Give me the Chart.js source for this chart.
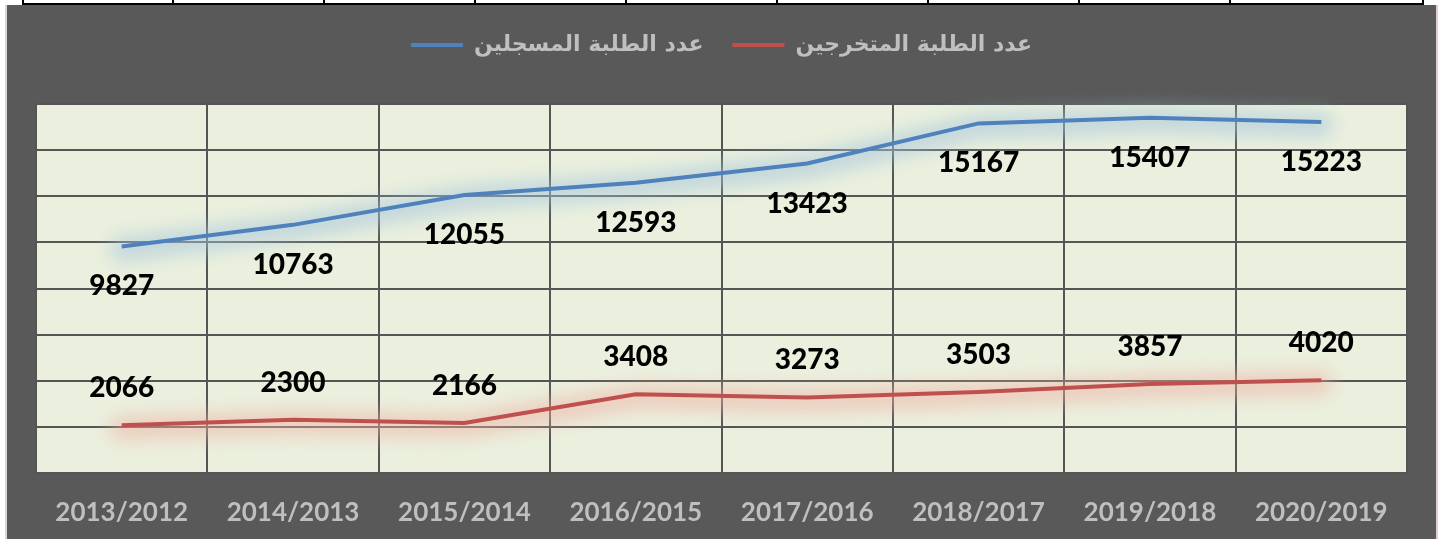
<!DOCTYPE html>
<html>
<head>
<meta charset="utf-8">
<script src="https://cdn.jsdelivr.net/npm/chart.js@4.4.1/dist/chart.umd.min.js"></script>
<style>
    html, body { margin: 0; padding: 0; background: #ffffff; }
    body { width: 1443px; height: 539px; position: relative; overflow: hidden; }
    #topStrip { position: absolute; left: 22px; top: 0; width: 1402px; height: 3px; border-bottom: 2px solid #000; }
    .tick { position: absolute; top: 0; width: 2px; height: 5px; background: #000; }
    #leftEdge { position: absolute; left: 5px; top: 5px; width: 2px; height: 534px; background: #d9d9d9; }
    #rightEdge { position: absolute; left: 1436px; top: 5px; width: 2px; height: 534px; background: #e6cccc; }
    #wrap { position: absolute; left: 7px; top: 5px; width: 1429px; height: 534px; background: #595959; }
</style>
</head>
<body>
<div id="topStrip"></div>
<div id="leftEdge"></div>
<div id="rightEdge"></div>
<div id="wrap"><canvas id="chart" width="1429" height="534"></canvas></div>
<script>
// chart data
const years = ['2013/2012', '2014/2013', '2015/2014', '2016/2015', '2017/2016', '2018/2017', '2019/2018', '2020/2019'];
const enrolled = [9827, 10763, 12055, 12593, 13423, 15167, 15407, 15223];
const graduates = [2066, 2300, 2166, 3408, 3273, 3503, 3857, 4020];
const enrolledLabel = 'عدد الطلبة المسجلين';
const graduatesLabel = 'عدد الطلبة المتخرجين';

// decorative table lines on top of the page
[22, 172, 323, 474, 625, 776, 927, 1078, 1229, 1422].forEach(x => {
    const d = document.createElement('div');
    d.className = 'tick';
    d.style.left = x + 'px';
    document.body.appendChild(d);
});

// light plot background
const plotBackground = {
    id: 'plotBackground',
    beforeDraw(chart) {
        const { ctx, chartArea } = chart;
        ctx.save();
        ctx.fillStyle = '#ebf0de';
        ctx.fillRect(chartArea.left, chartArea.top, chartArea.right - chartArea.left, chartArea.bottom - chartArea.top);
        ctx.restore();
    }
};

// soft glow under each line, traced through the points the library placed
const glow = {
    id: 'glow',
    beforeDatasetDraw(chart, args) {
        const ds = chart.data.datasets[args.index];
        const pts = args.meta.data;
        const ctx = chart.ctx;
        ctx.save();
        ctx.filter = 'blur(9px)';
        ctx.strokeStyle = ds.glowColor;
        ctx.lineWidth = 24;
        ctx.lineJoin = 'round';
        ctx.lineCap = 'round';
        ctx.beginPath();
        pts.forEach((p, i) => i ? ctx.lineTo(p.x, p.y + 3) : ctx.moveTo(p.x, p.y + 3));
        ctx.stroke();
        ctx.restore();
    }
};

// value labels next to the points
const valueLabels = {
    id: 'valueLabels',
    afterDatasetsDraw(chart) {
        const ctx = chart.ctx;
        ctx.save();
        ctx.font = '900 28px Lato';
        ctx.fillStyle = '#000000';
        ctx.textAlign = 'center';
        ctx.textBaseline = 'middle';
        chart.data.datasets.forEach((ds, i) => {
            chart.getDatasetMeta(i).data.forEach((pt, j) => {
                ctx.fillText(String(ds.data[j]), pt.x, pt.y + ds.labelShift);
            });
        });
        ctx.restore();
    }
};

new Chart(document.getElementById('chart'), {
    type: 'line',
    data: {
        labels: years,
        datasets: [{
            label: enrolledLabel,
            data: enrolled,
            borderColor: '#4f81bd',
            backgroundColor: '#4f81bd',
            borderWidth: 4,
            pointRadius: 0,
            tension: 0,
            glowColor: 'rgba(165, 198, 218, 0.6)',
            labelShift: 40
        }, {
            label: graduatesLabel,
            data: graduates,
            borderColor: '#c0504d',
            backgroundColor: '#c0504d',
            borderWidth: 4,
            pointRadius: 0,
            tension: 0,
            glowColor: 'rgba(236, 175, 162, 0.55)',
            labelShift: -37
        }]
    },
    options: {
        responsive: false,
        animation: false,
        layout: { padding: { left: 29, right: 29, top: 0, bottom: -13 } },
        scales: {
            x: {
                offset: true,
                grid: { offset: true, color: '#555555', lineWidth: 2, drawTicks: false },
                border: { color: '#555555', width: 2 },
                ticks: {
                    color: '#bfbfbf',
                    padding: 24,
                    maxRotation: 0,
                    font: { family: 'Lato', size: 26, weight: 'bold' }
                }
            },
            y: {
                min: 0,
                max: 16000,
                grid: { color: '#555555', lineWidth: 2, drawTicks: false },
                border: { color: '#555555', width: 2 },
                ticks: { display: false, stepSize: 2000 }
            }
        },
        plugins: {
            tooltip: { enabled: false },
            legend: {
                labels: {
                    color: '#bfbfbf',
                    boxWidth: 52,
                    boxHeight: 4,
                    padding: 29,
                    font: { family: 'DejaVu Sans', size: 22, weight: 'bold' },
                    generateLabels(chart) {
                        return Chart.defaults.plugins.legend.labels.generateLabels(chart).map(l => Object.assign(l, { lineWidth: 0 }));
                    }
                }
            },
            title: {
                display: true,
                text: ' ',
                weight: 0,
                font: { size: 1 },
                padding: { top: 37, bottom: 0 }
            }
        }
    },
    plugins: [plotBackground, glow, valueLabels]
});
</script>
</body>
</html>
